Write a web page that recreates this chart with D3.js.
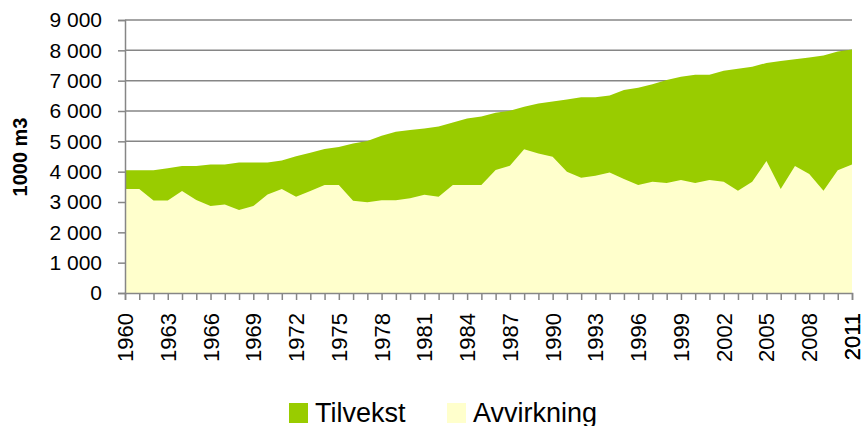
<!DOCTYPE html>
<html>
<head>
<meta charset="utf-8">
<script src="https://cdn.jsdelivr.net/npm/d3@7/dist/d3.min.js"></script>
<style>
    body { margin: 0; background: #fff; font-family: "Liberation Sans", Arial, sans-serif; }
    svg { display: block; }
    .tick text { fill: #000; }
</style>
</head>
<body>
<svg width="863" height="426"></svg>
<script>
    // values in 1000 m3
    const years = d3.range(1960, 2012);
    const tilvekst = [
        4050, 4050, 4050, 4110, 4185, 4185, 4240, 4240, 4305, 4305,
        4305, 4370, 4510, 4620, 4745, 4810, 4930, 5010, 5185, 5315,
        5370, 5425, 5490, 5625, 5755, 5820, 5940, 6005, 6140, 6250,
        6315, 6380, 6450, 6450, 6510, 6690, 6765, 6885, 7020, 7130,
        7195, 7195, 7325, 7390, 7455, 7585, 7650, 7710, 7765, 7830,
        7965, 8030
    ];
    const avvirkning = [
        3425, 3425, 3050, 3050, 3360, 3065, 2865, 2920, 2735, 2865,
        3250, 3425, 3175, 3360, 3560, 3560, 3040, 2990, 3055, 3055,
        3120, 3240, 3175, 3560, 3560, 3560, 4055, 4195, 4735, 4600,
        4490, 4000, 3800, 3865, 3975, 3755, 3560, 3670, 3625, 3725,
        3625, 3725, 3670, 3370, 3670, 4350, 3425, 4185, 3920, 3370,
        4050, 4240
    ];
    const yTicks = d3.range(0, 9001, 1000);
    const xLabelYears = d3.range(1960, 2012, 3).concat([2011]);
    const seriesNames = ["Tilvekst", "Avvirkning"];
    const colors = ["#99cc00", "#ffffcc"];

    const svg = d3.select("svg");
    const m = { left: 125, right: 852, top: 20, bottom: 293 };

    const x = d3.scaleLinear().domain([1960, 2011]).range([m.left, m.right]);
    const y = d3.scaleLinear().domain([0, 9000]).range([m.bottom, m.top]);

    // gridlines
    svg.append("g")
        .selectAll("line")
        .data(yTicks)
        .join("line")
        .attr("x1", m.left).attr("x2", m.right)
        .attr("y1", d => y(d)).attr("y2", d => y(d))
        .attr("stroke", "#868686").attr("stroke-width", 1.5);

    // areas, overlapping (not stacked)
    const area = vals => d3.area()
        .x((d, i) => x(years[i]))
        .y0(y(0))
        .y1(d => y(d))(vals);

    svg.append("path").attr("d", area(tilvekst)).attr("fill", colors[0]);
    svg.append("path").attr("d", area(avvirkning)).attr("fill", colors[1]);

    // y axis
    const yAxis = svg.append("g")
        .attr("transform", `translate(${m.left},0)`)
        .call(d3.axisLeft(y).tickValues(yTicks).tickSize(7).tickPadding(16)
            .tickFormat(d => d3.format(",")(d).replace(",", " ")));
    yAxis.selectAll("path, line").attr("stroke", "#868686").attr("stroke-width", 1.5);
    yAxis.selectAll("text").attr("font-size", 21).attr("font-family", "Liberation Sans, Arial");

    // x axis
    const xAxis = svg.append("g")
        .attr("transform", `translate(0,${m.bottom})`)
        .call(d3.axisBottom(x).tickValues(years).tickSize(7).tickFormat(""));
    xAxis.selectAll("path, line").attr("stroke", "#868686").attr("stroke-width", 1.5);

    svg.append("g")
        .selectAll("text")
        .data(xLabelYears)
        .join("text")
        .attr("transform", d => `translate(${x(d) + 8},${m.bottom + 20}) rotate(-90)`)
        .attr("text-anchor", "end")
        .attr("font-size", 22)
        .text(d => d);

    // y title
    svg.append("text")
        .attr("transform", `translate(27,157) rotate(-90)`)
        .attr("text-anchor", "middle")
        .attr("font-size", 20)
        .attr("font-weight", "bold")
        .text("1000 m3");

    // legend
    const legend = svg.append("g");
    const legX = [289, 447];
    seriesNames.forEach((name, i) => {
        legend.append("rect")
            .attr("x", legX[i]).attr("y", 403)
            .attr("width", 19).attr("height", 20)
            .attr("fill", colors[i]);
        legend.append("text")
            .attr("x", legX[i] + 26).attr("y", 422)
            .attr("font-size", 27)
            .text(name);
    });
</script>
</body>
</html>
